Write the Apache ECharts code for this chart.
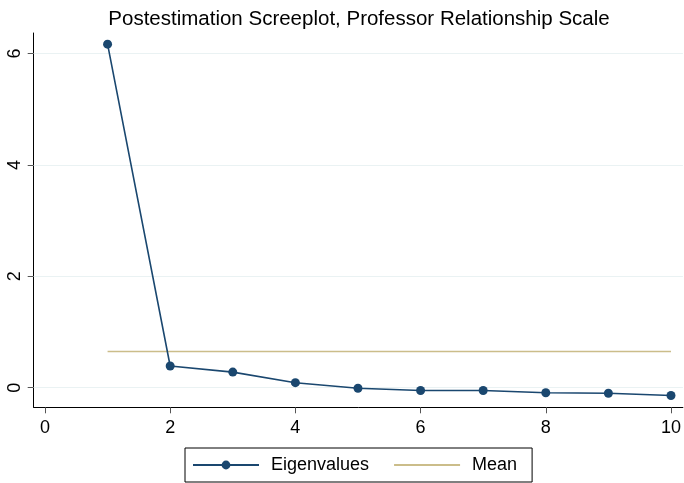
<!DOCTYPE html>
<html><head><meta charset="utf-8">
<script src="https://cdn.jsdelivr.net/npm/echarts@6/dist/echarts.min.js"></script>
<style>html,body{margin:0;padding:0;background:#fff}#c{width:684px;height:483px}</style>
</head><body><div id="c"></div>
<script>
var components = [1,2,3,4,5,6,7,8,9,10];
var eigenvalues = [6.17,0.39,0.28,0.09,-0.01,-0.05,-0.05,-0.09,-0.10,-0.14];
var meanValue = 0.65;
var xTicks = [0,2,4,6,8,10];
var yTicks = [0,2,4,6];

var chart = echarts.init(document.getElementById('c'), null, {renderer:'canvas'});
var font = '"Liberation Sans", Arial, sans-serif';
chart.setOption({
  animation:false,
  backgroundColor:'#fff',
  title:{text:'Postestimation Screeplot, Professor Relationship Scale', left:354, textAlign:'center', top:4,
    textStyle:{fontFamily:font, fontSize:20.5, fontWeight:'normal', color:'#000'}},
  grid:{left:33.7, right:0, top:33, bottom:75.7, containLabel:false},
  xAxis:{type:'value', min:-0.18, max:10.19,
    axisLine:{show:true, onZero:false, lineStyle:{color:'#000', width:1}},
    axisTick:{show:true, length:6, customValues:xTicks, lineStyle:{color:'#555'}},
    axisLabel:{customValues:xTicks, margin:12, fontFamily:font, fontSize:18, color:'#000'},
    splitLine:{show:false}},
  yAxis:{type:'value', min:-0.352, max:6.37,
    axisLine:{show:true, onZero:false, lineStyle:{color:'#000', width:1}},
    axisTick:{show:true, length:6, customValues:yTicks, lineStyle:{color:'#555'}},
    axisLabel:{customValues:yTicks, rotate:90, margin:10, fontFamily:font, fontSize:18, color:'#000'},
    splitLine:{show:false}},
  legend:{left:185, top:448, orient:'horizontal', itemWidth:66, itemHeight:11, itemGap:24,
    padding:[8,15,8,7], borderColor:'#000', borderWidth:1,
    textStyle:{fontFamily:font, fontSize:18, color:'#000', padding:[0,0,0,7]},
    data:[{name:'Eigenvalues'},{name:'Mean', itemStyle:{opacity:0}}]},
  series:[
    {name:'Eigenvalues', type:'line', data:components.map(function(c,i){return [c, eigenvalues[i]];}),
      symbol:'circle', symbolSize:9, z:5,
      itemStyle:{color:'#1a476f'}, lineStyle:{color:'#1a476f', width:1.6},
      markLine:{silent:true, symbol:'none', label:{show:false}, animation:false,
        lineStyle:{color:'#eaf2f3', width:1.2, type:'solid'},
        data:yTicks.map(function(v){return {yAxis:v};})}},
    {name:'Mean', type:'line', data:[[components[0], meanValue],[components[components.length-1], meanValue]],
      symbol:'none', z:3, itemStyle:{color:'#cbbd8a'}, lineStyle:{color:'#cbbd8a', width:1.6}}
  ]
});
</script></body></html>
